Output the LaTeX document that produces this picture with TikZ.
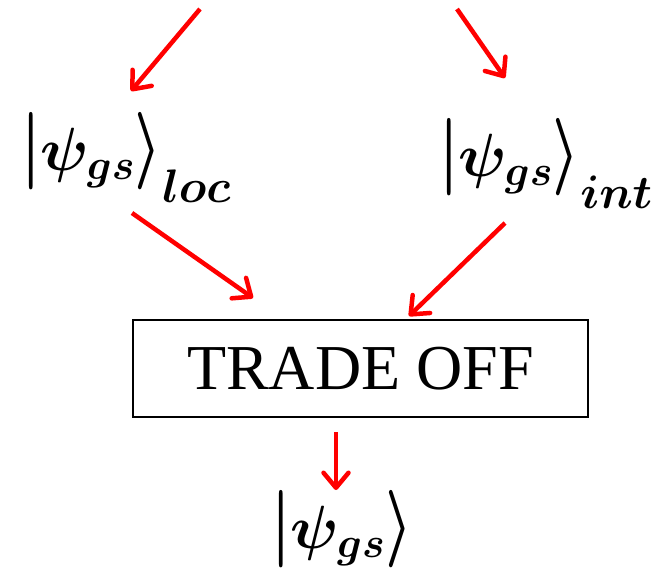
\RequirePackage{fix-cm}
\documentclass[tikz,border=0pt]{standalone}
\usepackage{amsmath}
\usepackage{graphicx}
\usepackage{fontspec}
\newfontfamily\tnr{Liberation Serif}
\usetikzlibrary{arrows.meta}
\newcommand\ketbar{\scalebox{1}[1.27]{$|$}}
\newcommand\ketang{\scalebox{1}[1.27]{$\rangle$}}
\newcommand\ketsub[1]{\raisebox{-11pt}{\fontsize{47}{50}\selectfont$#1$}}
\begin{document}
\begin{tikzpicture}[x=1pt,y=1pt,
  redarrow/.style={draw=red,line width=4.5pt,-{Straight Barb[length=15pt,width=25pt,round]}},
  ketlabel/.style={inner sep=0pt,font=\fontsize{61}{72}\selectfont\boldmath},
  tradebox/.style={draw=black,line width=1.8pt,minimum width=455pt,minimum height=97pt,inner sep=0pt,font=\tnr\fontsize{64}{76}\selectfont}]
\useasboundingbox (0,0) rectangle (669,-570);
\node[ketlabel,anchor=base west] (loc) at (21,-170) {$\ketbar\psi_{gs}\ketang_{\ketsub{loc}}$};
\node[ketlabel,anchor=base west] (int) at (439,-176) {$\ketbar\psi_{gs}\ketang_{\ketsub{int}}$};
\node[tradebox] (box) at (360.5,-368.5) {TRADE OFF};
\node[ketlabel,anchor=base] (gs) at (342,-548) {$\ketbar\psi_{gs}\ketang$};
\coordinate (s1) at (200,-9);
\coordinate (e1) at (131,-91);
\coordinate (s2) at (457,-9);
\coordinate (e2) at (505,-78);
\coordinate (s3) at (132,-213);
\coordinate (e3) at (253,-298);
\coordinate (s4) at (505,-223);
\coordinate (e4) at (409,-316);
\coordinate (s5) at (336,-432);
\coordinate (e5) at (336,-490);
\draw[redarrow] (s1) -- (e1);
\draw[redarrow] (s2) -- (e2);
\draw[redarrow] (s3) -- (e3);
\draw[redarrow] (s4) -- (e4);
\draw[redarrow] (s5) -- (e5);
\end{tikzpicture}
\end{document}
